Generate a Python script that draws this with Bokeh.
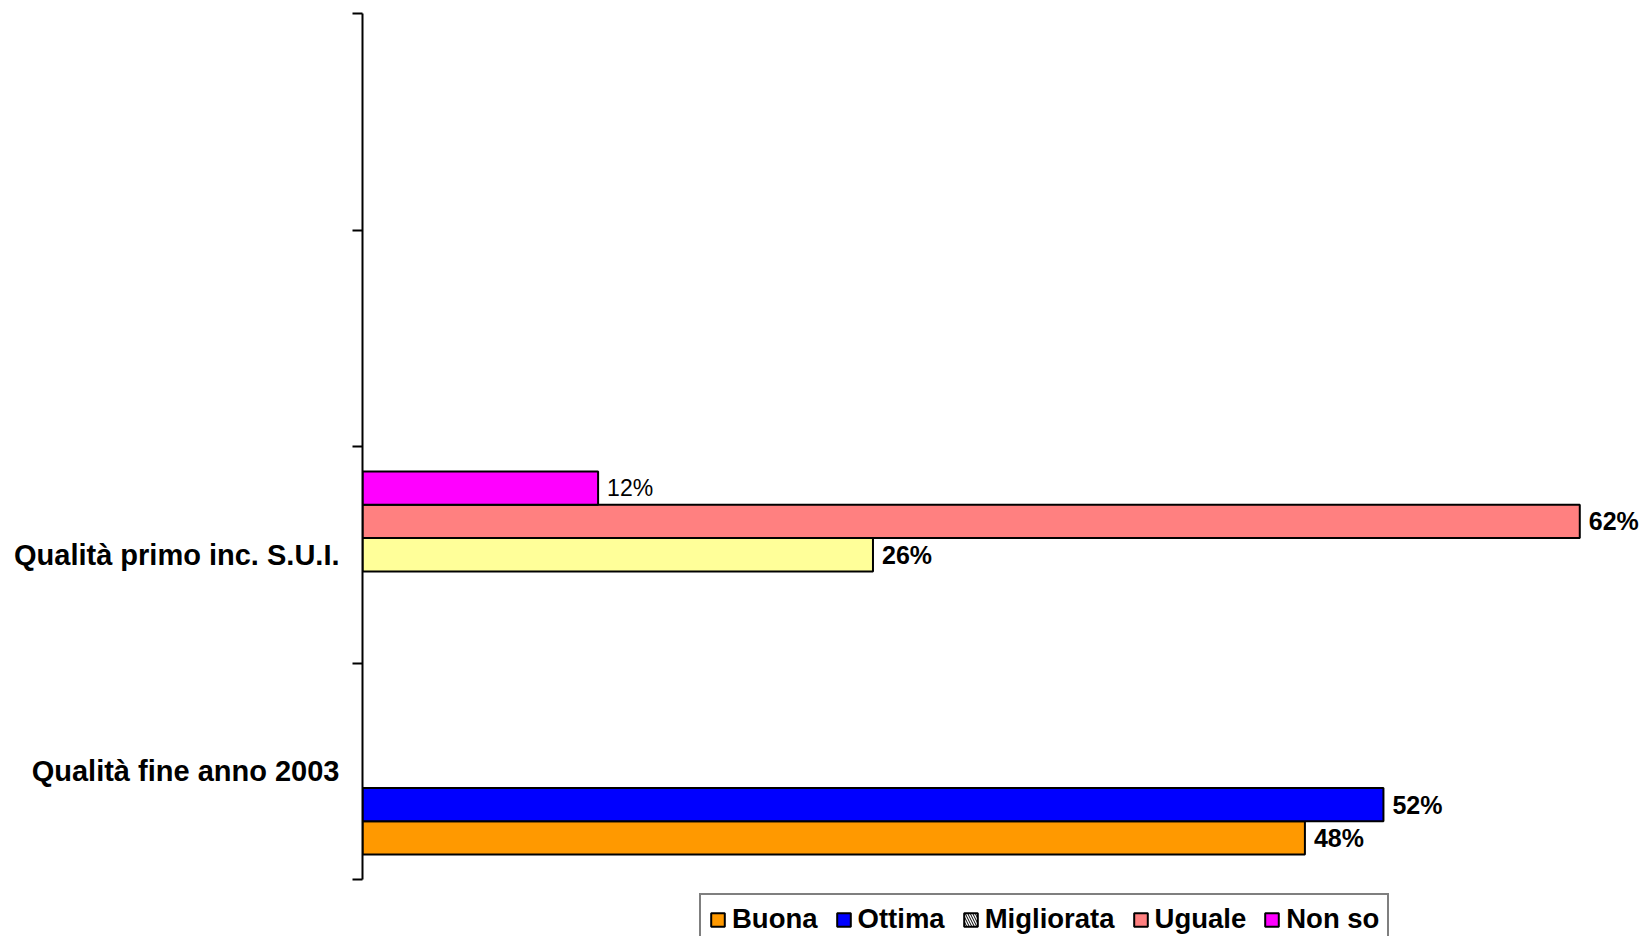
from bokeh.plotting import figure
from bokeh.models import Range1d, FixedTicker, Legend, LegendItem
from bokeh.embed import file_html
from bokeh.resources import INLINE
from bokeh.core.properties import value

# ---- data ----
categories = ["Qualità fine anno 2003", "Qualità primo inc. S.U.I.", "", ""]
series_names = ["Buona", "Ottima", "Migliorata", "Uguale", "Non so"]
series_colors = ["#FF9900", "#0000FF", "#FFFF99", "#FF8080", "#FF00FF"]
buona = [48, None, None, None]
ottima = [52, None, None, None]
migliorata = [None, 26, None, None]
uguale = [None, 62, None, None]
non_so = [None, 12, None, None]
label_styles = ["bold", "bold", "bold", "bold", "normal"]
label_sizes = ["25px", "25px", "25px", "25px", "23px"]
series_values = [buona, ottima, migliorata, uguale, non_so]

FONT = "Liberation Sans"
n_cat = len(categories)
n_ser = len(series_names)
bar_h = 1.0 / (n_ser + 1.5)

# layout: frame spans from top margin down to the page bottom so the
# legend (drawn inside the frame, under the axis) is not clipped
W, H = 1648, 936
TOP, LEFT = 13, 362
cat_px = 216.5
frame_h = H - TOP
y_start = n_cat - frame_h / cat_px

p = figure(width=W, height=H,
           x_range=Range1d(0, 65.5), y_range=Range1d(y_start, n_cat),
           output_backend="svg", toolbar_location=None,
           x_axis_location=None,
           min_border_left=LEFT, min_border_right=0,
           min_border_top=TOP, min_border_bottom=0)
p.outline_line_color = None
p.background_fill_color = "white"
p.border_fill_color = "white"
p.grid.visible = False

yax = p.yaxis[0]
yax.bounds = (0, n_cat)
yax.ticker = FixedTicker(ticks=[i + 0.5 for i in range(n_cat)],
                         minor_ticks=list(range(n_cat + 1)))
yax.major_label_overrides = {i + 0.5: categories[i] for i in range(n_cat)}
yax.axis_line_color = "black"
yax.axis_line_width = 2
yax.major_tick_line_color = None
yax.major_tick_out = 0
yax.major_tick_in = 0
yax.minor_tick_line_color = "black"
yax.minor_tick_line_width = 2
yax.minor_tick_out = 10
yax.minor_tick_in = 0
yax.major_label_text_font = FONT
yax.major_label_text_font_style = "bold"
yax.major_label_text_font_size = "29px"
yax.major_label_text_color = "black"
yax.major_label_standoff = 13

renderers = []
for j, (name, color, vals, style, size) in enumerate(zip(series_names, series_colors,
                                                         series_values, label_styles,
                                                         label_sizes)):
    ys = [i + 0.5 + (j - (n_ser - 1) / 2) * bar_h for i, v in enumerate(vals) if v is not None]
    xs = [v for v in vals if v is not None]
    r = p.hbar(y=ys, right=xs, left=0, height=bar_h, fill_color=color,
               line_color="black", line_width=2)
    p.text(x=xs, y=ys, text=[f"{v}%" for v in xs], x_offset=9,
           text_baseline="middle", text_align="left",
           text_font=value(FONT), text_font_size=size,
           text_font_style=style, text_color="black")
    renderers.append(r)

# legend swatch for "Migliorata" is hatched in the original (no visible bar)
nan = float("nan")
hatch_r = p.hbar(y=[nan], right=[nan], left=0, height=bar_h, fill_color="white",
                 hatch_pattern="\\", hatch_color="black", hatch_scale=5,
                 hatch_weight=1, line_color="black", line_width=2)
legend_renderers = list(renderers)
legend_renderers[2] = hatch_r

legend = Legend(items=[LegendItem(label=n, renderers=[r])
                       for n, r in zip(series_names, legend_renderers)],
                orientation="horizontal", location=(337, -9),
                label_text_font=FONT, label_text_font_size="27.5px",
                label_text_font_style="bold", label_text_color="black",
                glyph_width=17, glyph_height=17, label_standoff=6,
                spacing=17, padding=8, margin=0,
                border_line_color="black", border_line_width=2,
                background_fill_color="white", background_fill_alpha=1)
p.add_layout(legend)

open("out.html", "w").write(file_html(p, INLINE))
